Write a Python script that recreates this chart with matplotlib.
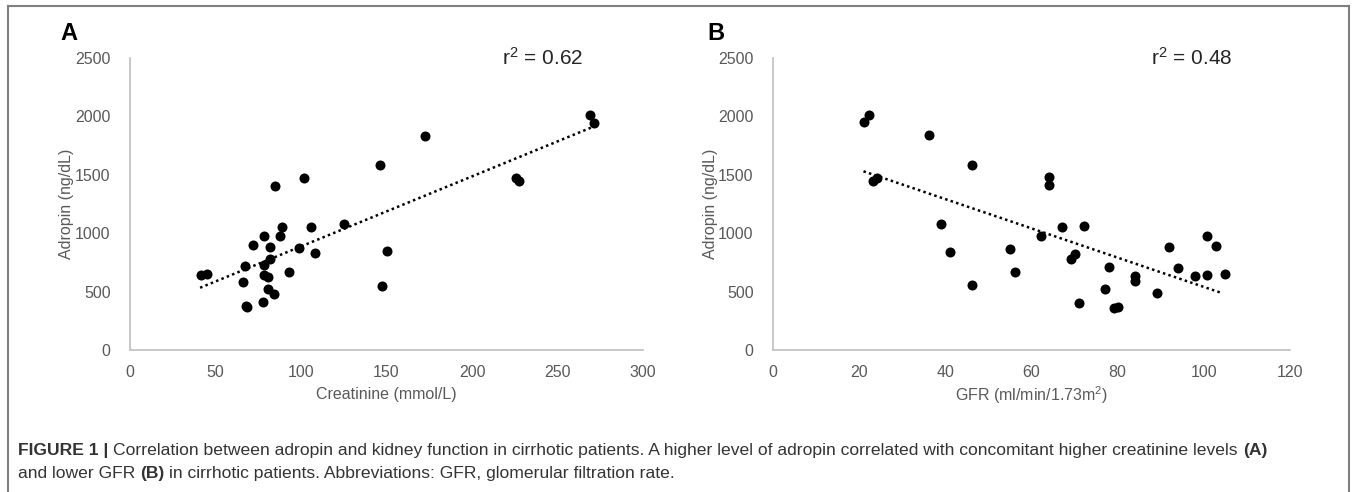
import matplotlib
matplotlib.use("Agg")
import matplotlib.pyplot as plt
from matplotlib.lines import Line2D

# ---------------- data ----------------
creatinine = [41.7, 45.0, 66.2, 67.2, 67.9, 68.7, 71.8, 77.9, 78.6, 78.6, 78.6,
              80.9, 80.9, 81.9, 81.9, 84.0, 84.7, 88.0, 89.1, 92.9, 99.0, 102.0,
              106.1, 108.1, 125.2, 146.3, 147.3, 150.4, 172.8, 225.7, 227.5,
              269.0, 271.5]
adropin_a = [646, 654, 586, 720, 374, 369, 897, 414, 977, 729, 640,
             623, 523, 880, 783, 483, 1406, 977, 1054, 669, 874, 1474,
             1057, 829, 1083, 1583, 551, 846, 1834, 1474, 1449,
             2011, 1943]
trend_a_x = [41, 270]
trend_a_y = [533, 1906]

gfr = [21.1, 22.2, 23.2, 24.2, 36.1, 39.1, 41.1, 46.1, 46.1, 55.1, 56.1,
       62.1, 64.1, 64.1, 67.1, 69.1, 70.1, 71.1, 72.1, 77.1, 78.1, 79.1,
       80.1, 84.1, 84.1, 89.1, 91.9, 93.9, 97.9, 100.8, 100.8, 102.8, 104.8]
adropin_b = [1952, 2011, 1450, 1473, 1843, 1077, 843, 1587, 553, 869, 664,
             974, 1479, 1410, 1054, 781, 826, 402, 1063, 519, 712, 362,
             370, 632, 587, 484, 880, 704, 630, 644, 974, 894, 652]
trend_b_x = [21, 104]
trend_b_y = [1530, 490]

y_ticks = [0, 500, 1000, 1500, 2000, 2500]
x_ticks_a = [0, 50, 100, 150, 200, 250, 300]
x_ticks_b = [0, 20, 40, 60, 80, 100, 120]

panel_labels = ["A", "B"]
r2_labels = ["r$^2$ = 0.62", "r$^2$ = 0.48"]
x_labels = ["Creatinine (mmol/L)", "GFR (ml/min/1.73m$^2$)"]
y_label = "Adropin (ng/dL)"

caption_line1 = [("FIGURE 1 |", True),
                 ("Correlation between adropin and kidney function in cirrhotic patients. "
                  "A higher level of adropin correlated with concomitant higher creatinine levels", False),
                 ("(A)", True)]
caption_line2 = [("and lower GFR", False), ("(B)", True),
                 ("in cirrhotic patients. Abbreviations: GFR, glomerular filtration rate.", False)]

# ---------------- style ----------------
plt.rcParams['font.family'] = ['Liberation Sans', 'DejaVu Sans']
plt.rcParams['mathtext.fontset'] = 'custom'
plt.rcParams['mathtext.rm'] = 'Liberation Sans'
plt.rcParams['mathtext.it'] = 'Liberation Sans'
plt.rcParams['mathtext.default'] = 'regular'

W, H = 1356, 492
fig = plt.figure(figsize=(W / 100, H / 100), dpi=100)

GRAY_TXT = "#595959"
SPINE = "#bfbfbf"


def px_rect(x0, x1, ytop, ybot):
    return [x0 / W, 1 - ybot / H, (x1 - x0) / W, (ybot - ytop) / H]


axA = fig.add_axes(px_rect(130, 643, 58, 350))
axB = fig.add_axes(px_rect(773, 1290, 58, 350))
ax_px = [(513, 292), (517, 292)]

panels = [
    (axA, creatinine, adropin_a, trend_a_x, trend_a_y, x_ticks_a),
    (axB, gfr, adropin_b, trend_b_x, trend_b_y, x_ticks_b),
]

for i, (ax, xs, ys, tx, ty, xt) in enumerate(panels):
    wpx, hpx = ax_px[i]
    ax.scatter(xs, ys, s=52, color="black", zorder=3, linewidths=0, clip_on=False)
    ax.plot(tx, ty, color="black", linestyle=(0, (1, 1.3)), linewidth=1.8, zorder=2)
    ax.set_xlim(xt[0], xt[-1])
    ax.set_ylim(0, 2500)
    ax.set_xticks(xt)
    ax.set_yticks(y_ticks)
    for s in ["top", "right"]:
        ax.spines[s].set_visible(False)
    for s in ["left", "bottom"]:
        ax.spines[s].set_color(SPINE)
        ax.spines[s].set_linewidth(1.2)
    ax.tick_params(length=0, labelsize=11.5, labelcolor=GRAY_TXT)
    ax.tick_params(axis="y", pad=14)
    ax.tick_params(axis="x", pad=11)
    ax.set_xlabel(x_labels[i], fontsize=11.5, color=GRAY_TXT)
    ax.set_ylabel(y_label, fontsize=11.5, color=GRAY_TXT)
    ax.xaxis.set_label_coords(0.5, -45 / hpx)
    ax.xaxis.label.set_va("center")
    ax.yaxis.set_label_coords(-63 / wpx, 0.5)
    ax.yaxis.label.set_va("center")
    ax.patch.set_alpha(0)

# panel letters and r^2 texts (pixel positions)
for lab, xpx in zip(panel_labels, [60, 707]):
    fig.text(xpx / W, 1 - 33 / H, lab, fontsize=17, fontweight="bold",
             color="black", va="center", ha="left")
for lab, xpx in zip(r2_labels, [543, 1192]):
    fig.text(xpx / W, 1 - 58 / H, lab, fontsize=15, color="#262626",
             va="center", ha="center")

# outer frame (open at bottom)
FRAME = "#7f7f7f"
for xs_, ys_ in [([8, 8], [492, 6]), ([1349, 1349], [492, 6]), ([8, 1349], [6, 6])]:
    fig.add_artist(Line2D([x / W for x in xs_], [1 - y / H for y in ys_],
                          transform=fig.transFigure, color=FRAME, linewidth=1.5))

# caption with mixed bold / regular pieces
CAP = "#333333"
CAP_SIZE = 12.6
renderer = fig.canvas.get_renderer()


def text_width(s, bold):
    t = fig.text(0, 0, s, fontsize=CAP_SIZE, fontweight="bold" if bold else "normal")
    w = t.get_window_extent(renderer).width
    t.remove()
    return w


space_w = text_width("x x", False) - text_width("xx", False)


def caption(pieces, x_px, y_px):
    x = x_px
    for j, (txt, bold) in enumerate(pieces):
        t = fig.text(x / W, 1 - y_px / H, txt, fontsize=CAP_SIZE,
                     fontweight="bold" if bold else "normal", color=CAP,
                     va="baseline", ha="left")
        x += t.get_window_extent(renderer).width + space_w


caption(caption_line1, 18, 455)
caption(caption_line2, 18, 478)

fig.savefig("out.png", dpi=100)
